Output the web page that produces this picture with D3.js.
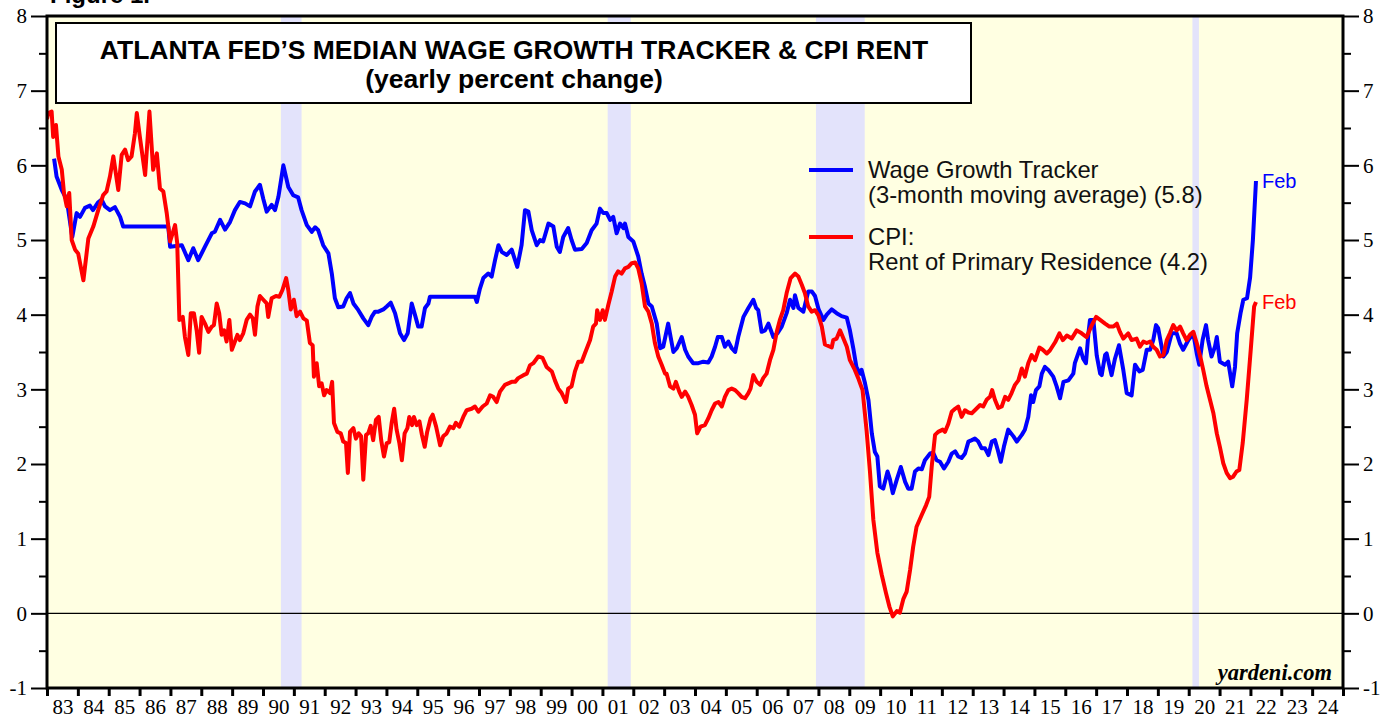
<!DOCTYPE html>
<html>
<head>
<meta charset="utf-8">
<script src="https://cdn.jsdelivr.net/npm/d3@7"></script>
<style>
  body { margin: 0; background: #fff; }
  svg { display: block; }
</style>
</head>
<body>
<div id="chart"></div>
<script>
// Wage Growth Tracker, 3-month moving average (decimal year, %)
const wageSeries = [
  [1983.23,6.09],[1983.31,5.85],[1983.48,5.67],[1983.64,5.54],[1983.80,5.09],[1983.82,5.04],[1983.96,5.36],[1984.07,5.31],
  [1984.23,5.43],[1984.39,5.46],[1984.49,5.40],[1984.65,5.50],[1984.77,5.54],[1984.88,5.45],[1985.04,5.40],[1985.20,5.44],
  [1985.37,5.31],[1985.47,5.18],[1986.93,5.18],[1986.99,4.91],[1987.37,4.93],[1987.58,4.73],[1987.74,4.89],[1987.90,4.73],
  [1988.12,4.91],[1988.34,5.09],[1988.44,5.11],[1988.61,5.27],[1988.77,5.14],[1988.93,5.24],[1989.09,5.40],[1989.25,5.51],
  [1989.42,5.49],[1989.58,5.45],[1989.74,5.65],[1989.90,5.74],[1990.01,5.55],[1990.12,5.38],[1990.28,5.47],[1990.39,5.40],
  [1990.50,5.58],[1990.66,6.00],[1990.82,5.71],[1990.98,5.60],[1991.14,5.57],[1991.25,5.40],[1991.42,5.20],[1991.58,5.11],
  [1991.69,5.17],[1991.79,5.13],[1991.95,4.93],[1992.12,4.82],[1992.23,4.55],[1992.33,4.22],[1992.44,4.10],[1992.60,4.11],
  [1992.71,4.22],[1992.82,4.29],[1992.93,4.15],[1993.09,4.06],[1993.25,3.95],[1993.41,3.86],[1993.52,3.97],[1993.63,4.04],
  [1993.74,4.04],[1993.90,4.07],[1994.01,4.11],[1994.14,4.16],[1994.28,4.02],[1994.44,3.75],[1994.57,3.66],[1994.69,3.75],
  [1994.82,4.15],[1994.93,3.99],[1995.03,3.84],[1995.14,3.84],[1995.25,4.09],[1995.36,4.15],[1995.41,4.24],[1996.87,4.24],
  [1996.93,4.17],[1997.03,4.35],[1997.14,4.49],[1997.30,4.55],[1997.41,4.51],[1997.52,4.73],[1997.63,4.93],[1997.74,4.84],
  [1997.90,4.80],[1998.06,4.87],[1998.24,4.64],[1998.38,4.93],[1998.49,5.40],[1998.60,5.38],[1998.71,5.13],[1998.87,4.93],
  [1998.98,5.00],[1999.08,4.98],[1999.25,5.22],[1999.41,5.18],[1999.52,4.91],[1999.62,4.84],[1999.73,5.04],[1999.89,5.16],
  [2000.00,5.00],[2000.11,4.87],[2000.33,4.88],[2000.49,4.96],[2000.65,5.13],[2000.81,5.22],[2000.92,5.42],[2001.03,5.36],
  [2001.14,5.36],[2001.25,5.27],[2001.35,5.31],[2001.46,5.09],[2001.57,5.22],[2001.68,5.16],[2001.73,5.22],[2001.84,5.04],
  [2002.00,4.98],[2002.16,4.78],[2002.27,4.55],[2002.38,4.37],[2002.49,4.15],[2002.60,4.11],[2002.76,3.88],[2002.87,3.55],
  [2002.97,3.57],[2003.13,3.88],[2003.30,3.50],[2003.41,3.55],[2003.57,3.70],[2003.68,3.53],[2003.78,3.44],[2003.94,3.35],
  [2004.11,3.35],[2004.27,3.37],[2004.43,3.36],[2004.54,3.44],[2004.65,3.57],[2004.74,3.70],[2004.87,3.70],[2004.97,3.57],
  [2005.08,3.64],[2005.19,3.55],[2005.30,3.50],[2005.40,3.70],[2005.57,3.97],[2005.73,4.09],[2005.89,4.20],[2005.98,4.09],
  [2006.05,4.06],[2006.16,3.77],[2006.27,3.79],[2006.38,3.88],[2006.54,3.70],[2006.67,3.75],[2006.81,3.84],[2006.97,4.02],
  [2007.08,4.20],[2007.19,4.09],[2007.24,4.26],[2007.35,4.09],[2007.51,4.04],[2007.67,4.31],[2007.79,4.31],[2007.89,4.25],
  [2008.00,4.08],[2008.16,3.93],[2008.27,4.00],[2008.43,4.07],[2008.59,4.02],[2008.75,3.98],[2008.92,3.96],[2009.02,3.79],
  [2009.13,3.55],[2009.23,3.30],[2009.35,3.21],[2009.40,3.26],[2009.51,3.08],[2009.62,2.86],[2009.73,2.41],[2009.83,2.16],
  [2009.91,2.10],[2009.99,1.70],[2010.10,1.67],[2010.24,1.90],[2010.32,1.79],[2010.41,1.61],[2010.54,1.79],[2010.67,1.96],
  [2010.81,1.76],[2010.91,1.67],[2011.02,1.67],[2011.13,1.90],[2011.24,1.94],[2011.35,1.93],[2011.45,2.05],[2011.62,2.14],
  [2011.72,2.15],[2011.83,2.05],[2011.94,2.03],[2012.07,1.94],[2012.21,2.03],[2012.32,2.14],[2012.43,2.17],[2012.53,2.10],
  [2012.64,2.08],[2012.75,2.14],[2012.86,2.30],[2012.97,2.32],[2013.07,2.34],[2013.18,2.30],[2013.29,2.21],[2013.40,2.21],
  [2013.51,2.12],[2013.62,2.30],[2013.72,2.32],[2013.81,2.19],[2013.91,2.03],[2014.01,2.23],[2014.15,2.46],[2014.32,2.37],
  [2014.43,2.30],[2014.59,2.39],[2014.69,2.46],[2014.80,2.63],[2014.89,2.92],[2014.96,2.83],[2015.05,2.99],[2015.16,3.04],
  [2015.24,3.21],[2015.34,3.30],[2015.45,3.26],[2015.61,3.17],[2015.72,3.04],[2015.83,2.88],[2015.94,3.10],[2016.10,3.12],
  [2016.26,3.21],[2016.31,3.35],[2016.48,3.55],[2016.58,3.41],[2016.67,3.35],[2016.75,3.75],[2016.80,3.93],[2016.91,3.93],
  [2017.02,3.45],[2017.13,3.21],[2017.18,3.19],[2017.29,3.46],[2017.34,3.48],[2017.50,3.19],[2017.61,3.41],[2017.74,3.59],
  [2017.88,3.26],[2017.99,2.95],[2018.15,2.92],[2018.26,3.33],[2018.40,3.24],[2018.51,3.26],[2018.64,3.53],[2018.75,3.53],
  [2018.85,3.66],[2018.94,3.86],[2019.01,3.82],[2019.18,3.44],[2019.29,3.50],[2019.45,3.75],[2019.61,3.75],[2019.72,3.61],
  [2019.82,3.53],[2019.99,3.66],[2020.15,3.75],[2020.26,3.48],[2020.34,3.33],[2020.45,3.66],[2020.56,3.86],[2020.63,3.66],
  [2020.74,3.44],[2020.85,3.57],[2020.91,3.70],[2021.01,3.37],[2021.18,3.33],[2021.28,3.37],[2021.41,3.04],[2021.50,3.30],
  [2021.57,3.75],[2021.68,4.02],[2021.77,4.20],[2021.89,4.22],[2021.99,4.50],[2022.08,5.00],[2022.18,5.79]
];

// CPI: Rent of Primary Residence, yearly % change
const rentSeries = [
  [1983.00,6.62],[1983.04,6.70],[1983.15,6.72],[1983.20,6.38],[1983.29,6.54],[1983.37,6.12],[1983.48,5.94],[1983.55,5.63],
  [1983.64,5.45],[1983.72,5.63],[1983.80,5.00],[1983.91,4.87],[1984.01,4.82],[1984.18,4.46],[1984.34,5.02],[1984.50,5.18],
  [1984.66,5.40],[1984.82,5.60],[1984.93,5.65],[1985.04,5.85],[1985.15,6.12],[1985.31,5.67],[1985.42,6.14],[1985.53,6.21],
  [1985.63,6.07],[1985.74,6.12],[1985.85,6.43],[1985.91,6.70],[1986.01,6.38],[1986.18,5.87],[1986.32,6.72],[1986.44,5.94],
  [1986.56,6.16],[1986.66,5.69],[1986.77,5.65],[1986.88,5.36],[1986.99,4.98],[1987.15,5.20],[1987.22,4.96],[1987.29,3.93],
  [1987.40,3.97],[1987.47,3.70],[1987.58,3.46],[1987.66,4.02],[1987.76,4.02],[1987.85,3.79],[1987.93,3.49],[1988.01,3.97],
  [1988.12,3.88],[1988.23,3.77],[1988.34,3.84],[1988.41,3.86],[1988.50,4.15],[1988.58,4.02],[1988.66,3.73],[1988.74,3.79],
  [1988.82,3.64],[1988.91,3.93],[1988.99,3.53],[1989.09,3.64],[1989.17,3.73],[1989.25,3.66],[1989.36,3.75],[1989.47,3.93],
  [1989.58,4.00],[1989.67,3.95],[1989.74,3.73],[1989.82,4.11],[1989.90,4.25],[1990.01,4.20],[1990.12,4.15],[1990.17,3.97],
  [1990.28,4.22],[1990.42,4.25],[1990.53,4.24],[1990.63,4.33],[1990.75,4.49],[1990.82,4.33],[1990.90,4.07],[1991.00,4.20],
  [1991.09,3.98],[1991.20,4.04],[1991.31,3.95],[1991.42,3.92],[1991.52,3.62],[1991.61,3.59],[1991.65,3.17],[1991.74,3.35],
  [1991.82,3.04],[1991.90,3.08],[1991.98,2.92],[1992.06,2.99],[1992.17,2.95],[1992.24,3.10],[1992.30,2.55],[1992.41,2.43],
  [1992.52,2.41],[1992.60,2.30],[1992.69,2.28],[1992.75,1.88],[1992.82,2.43],[1992.93,2.48],[1993.01,2.34],[1993.10,2.41],
  [1993.18,2.37],[1993.25,1.79],[1993.34,2.39],[1993.41,2.41],[1993.49,2.51],[1993.57,2.32],[1993.66,2.59],[1993.75,2.63],
  [1993.83,2.32],[1993.92,2.10],[1994.01,2.28],[1994.09,2.29],[1994.17,2.55],[1994.25,2.74],[1994.33,2.46],[1994.42,2.28],
  [1994.50,2.05],[1994.59,2.41],[1994.68,2.48],[1994.74,2.63],[1994.83,2.52],[1994.89,2.63],[1994.98,2.52],[1995.07,2.57],
  [1995.15,2.39],[1995.24,2.23],[1995.32,2.43],[1995.43,2.61],[1995.50,2.66],[1995.61,2.50],[1995.74,2.25],[1995.84,2.37],
  [1995.95,2.41],[1996.06,2.50],[1996.17,2.48],[1996.25,2.55],[1996.36,2.50],[1996.49,2.63],[1996.60,2.72],[1996.76,2.74],
  [1996.87,2.77],[1996.98,2.70],[1997.12,2.77],[1997.25,2.81],[1997.36,2.92],[1997.46,2.90],[1997.57,2.83],[1997.68,2.97],
  [1997.84,3.06],[1997.95,3.08],[1998.06,3.10],[1998.17,3.10],[1998.27,3.15],[1998.44,3.19],[1998.55,3.21],[1998.65,3.32],
  [1998.76,3.35],[1998.92,3.44],[1999.06,3.42],[1999.19,3.30],[1999.36,3.24],[1999.46,3.12],[1999.57,3.01],[1999.68,2.95],
  [1999.82,2.83],[1999.89,3.01],[2000.00,3.04],[2000.11,3.24],[2000.22,3.37],[2000.33,3.37],[2000.43,3.48],[2000.60,3.66],
  [2000.70,3.84],[2000.79,3.88],[2000.83,4.06],[2000.92,3.93],[2001.01,4.06],[2001.08,3.93],[2001.19,4.13],[2001.30,4.31],
  [2001.41,4.51],[2001.51,4.58],[2001.62,4.55],[2001.73,4.62],[2001.84,4.64],[2001.95,4.69],[2002.06,4.70],[2002.16,4.62],
  [2002.27,4.42],[2002.38,4.11],[2002.49,4.04],[2002.60,3.88],[2002.70,3.62],[2002.81,3.44],[2002.92,3.33],[2003.03,3.21],
  [2003.08,3.21],[2003.19,3.04],[2003.30,3.01],[2003.38,3.10],[2003.49,2.97],[2003.57,2.90],[2003.68,2.97],[2003.78,2.90],
  [2003.89,2.79],[2004.00,2.66],[2004.07,2.41],[2004.18,2.50],[2004.32,2.52],[2004.43,2.61],[2004.54,2.72],[2004.65,2.81],
  [2004.76,2.83],[2004.87,2.77],[2004.97,2.90],[2005.08,2.99],[2005.19,3.01],[2005.30,2.99],[2005.40,2.95],[2005.51,2.90],
  [2005.62,2.88],[2005.73,2.95],[2005.80,3.01],[2005.89,3.19],[2006.00,3.10],[2006.11,3.06],[2006.21,3.15],[2006.32,3.21],
  [2006.43,3.39],[2006.54,3.53],[2006.65,3.77],[2006.75,3.93],[2006.86,4.06],[2006.97,4.29],[2007.10,4.49],[2007.24,4.55],
  [2007.35,4.51],[2007.46,4.40],[2007.56,4.29],[2007.67,4.11],[2007.78,4.04],[2007.89,4.06],[2008.00,3.99],[2008.11,3.84],
  [2008.21,3.60],[2008.32,3.58],[2008.43,3.56],[2008.48,3.66],[2008.59,3.68],[2008.70,3.79],[2008.81,3.68],[2008.92,3.57],
  [2009.02,3.39],[2009.13,3.30],[2009.18,3.26],[2009.29,3.15],[2009.35,3.08],[2009.43,2.99],[2009.56,2.45],[2009.67,1.90],
  [2009.78,1.25],[2009.91,0.81],[2010.05,0.52],[2010.19,0.27],[2010.30,0.09],[2010.41,-0.04],[2010.54,0.03],[2010.64,0.01],
  [2010.75,0.19],[2010.86,0.29],[2010.97,0.58],[2011.07,0.89],[2011.18,1.16],[2011.35,1.32],[2011.49,1.45],[2011.59,1.56],
  [2011.67,1.96],[2011.78,2.39],[2011.88,2.43],[2012.03,2.46],[2012.10,2.43],[2012.21,2.54],[2012.32,2.70],[2012.43,2.74],
  [2012.53,2.77],[2012.64,2.63],[2012.75,2.72],[2012.86,2.69],[2012.97,2.68],[2013.07,2.72],[2013.24,2.79],[2013.34,2.77],
  [2013.45,2.86],[2013.56,2.90],[2013.63,2.99],[2013.72,2.86],[2013.83,2.75],[2013.94,2.77],[2014.05,2.90],[2014.15,2.86],
  [2014.26,2.95],[2014.37,3.06],[2014.48,3.12],[2014.59,3.28],[2014.69,3.17],[2014.80,3.35],[2014.91,3.46],[2015.02,3.39],
  [2015.16,3.56],[2015.27,3.53],[2015.40,3.48],[2015.50,3.52],[2015.67,3.63],[2015.81,3.75],[2015.92,3.66],[2016.05,3.72],
  [2016.21,3.68],[2016.37,3.79],[2016.53,3.75],[2016.69,3.70],[2016.86,3.86],[2017.00,3.97],[2017.13,3.93],[2017.29,3.88],
  [2017.43,3.84],[2017.56,3.84],[2017.67,3.88],[2017.77,3.77],[2017.88,3.68],[2018.04,3.75],[2018.15,3.66],[2018.31,3.68],
  [2018.42,3.57],[2018.53,3.64],[2018.64,3.62],[2018.75,3.64],[2018.85,3.57],[2018.96,3.53],[2019.07,3.44],[2019.18,3.46],
  [2019.29,3.66],[2019.39,3.75],[2019.50,3.86],[2019.61,3.79],[2019.72,3.84],[2019.82,3.75],[2019.93,3.66],[2020.04,3.73],
  [2020.15,3.77],[2020.26,3.62],[2020.39,3.41],[2020.47,3.26],[2020.58,3.04],[2020.69,2.86],[2020.80,2.68],[2020.91,2.41],
  [2021.01,2.23],[2021.12,2.01],[2021.23,1.88],[2021.34,1.81],[2021.44,1.83],[2021.55,1.90],[2021.64,1.92],[2021.75,2.28],
  [2021.88,2.86],[2022.01,3.53],[2022.12,4.11],[2022.18,4.17]
];

// Recession periods (start, end)
const recessions = [[1990.58, 1991.25], [2001.17, 2001.92], [2007.92, 2009.50], [2020.12, 2020.33]];

const yMajorTicks = [-1, 0, 1, 2, 3, 4, 5, 6, 7, 8];
const yMinorTicks = [-0.5, 0.5, 1.5, 2.5, 3.5, 4.5, 5.5, 6.5, 7.5];
const yearTicks = [1983,1984,1985,1986,1987,1988,1989,1990,1991,1992,1993,1994,1995,1996,1997,1998,1999,2000,2001,2002,2003,
  2004,2005,2006,2007,2008,2009,2010,2011,2012,2013,2014,2015,2016,2017,2018,2019,2020,2021,2022,2023,2024,2025];
const yearLabels = ['83','84','85','86','87','88','89','90','91','92','93','94','95','96','97','98','99','00','01','02','03',
  '04','05','06','07','08','09','10','11','12','13','14','15','16','17','18','19','20','21','22','23','24'];

const titleLines = ["ATLANTA FED\u2019S MEDIAN WAGE GROWTH TRACKER & CPI RENT", "(yearly percent change)"];
const legendItems = [
  { color: "#0000ff", lines: ["Wage Growth Tracker", "(3-month moving average) (5.8)"] },
  { color: "#ff0000", lines: ["CPI:", "Rent of Primary Residence (4.2)"] }
];

const W = 1389, H = 719;
const margin = { top: 16, right: 46, bottom: 31, left: 47 };
const innerW = W - margin.left - margin.right;
const innerH = H - margin.top - margin.bottom;

const svg = d3.select('#chart').append('svg')
  .attr('width', W).attr('height', H);

// heading, cut off by the top edge as in the source image
svg.append('text')
  .attr('x', 50).attr('y', 3)
  .attr('font-family', 'Liberation Sans, Arial, sans-serif')
  .attr('font-weight', 'bold').attr('font-size', 24)
  .text('Figure 1.');

const x = d3.scaleLinear().domain([1983, 2025]).range([0, innerW]);
const y = d3.scaleLinear().domain([-1, 8]).range([innerH, 0]);

const g = svg.append('g').attr('transform', `translate(${margin.left},${margin.top})`);

g.append('clipPath').attr('id', 'plotClip')
  .append('rect').attr('width', innerW).attr('height', innerH);

g.append('rect').attr('width', innerW).attr('height', innerH).attr('fill', '#ffffe2');

// recession shading
g.selectAll('rect.recession')
  .data(recessions)
  .join('rect')
  .attr('class', 'recession')
  .attr('x', d => x(d[0]))
  .attr('width', d => x(d[1]) - x(d[0]))
  .attr('y', 0).attr('height', innerH)
  .attr('fill', '#e3e3fb');

// zero line
g.append('line')
  .attr('x1', 0).attr('x2', innerW)
  .attr('y1', y(0)).attr('y2', y(0))
  .attr('stroke', '#000').attr('stroke-width', 1.2);

const line = d3.line().x(d => x(d[0])).y(d => y(d[1]));

const lines = g.append('g').attr('clip-path', 'url(#plotClip)');
lines.append('path').datum(wageSeries)
  .attr('d', line).attr('fill', 'none')
  .attr('stroke', '#0000ff').attr('stroke-width', 4)
  .attr('stroke-linejoin', 'round');
lines.append('path').datum(rentSeries)
  .attr('d', line).attr('fill', 'none')
  .attr('stroke', '#ff0000').attr('stroke-width', 4)
  .attr('stroke-linejoin', 'round');

// end labels
const lastWage = wageSeries[wageSeries.length - 1];
const lastRent = rentSeries[rentSeries.length - 1];
[[lastWage, '#0000ff'], [lastRent, '#ff0000']].forEach(([p, c]) => {
  g.append('text')
    .attr('x', x(p[0]) + 6).attr('y', y(p[1]) + 7)
    .attr('font-family', 'Liberation Sans, Arial, sans-serif')
    .attr('font-size', 20).attr('fill', c)
    .text('Feb');
});

// title box
g.append('rect')
  .attr('x', 9).attr('y', 7).attr('width', 915).attr('height', 80)
  .attr('fill', '#fff').attr('stroke', '#000').attr('stroke-width', 2);
g.selectAll('text.title')
  .data(titleLines)
  .join('text')
  .attr('class', 'title')
  .attr('x', 467).attr('y', (d, i) => 43 + i * 29)
  .attr('text-anchor', 'middle')
  .attr('font-family', 'Liberation Sans, Arial, sans-serif')
  .attr('font-weight', 'bold').attr('font-size', 26.5)
  .text(d => d);

// legend
const legend = g.append('g').attr('transform', 'translate(762,154)');
legendItems.forEach((item, i) => {
  const row = legend.append('g').attr('transform', `translate(0,${i * 67})`);
  row.append('line')
    .attr('x1', 0).attr('x2', 44).attr('y1', 0).attr('y2', 0)
    .attr('stroke', item.color).attr('stroke-width', 4);
  row.selectAll('text')
    .data(item.lines)
    .join('text')
    .attr('x', 59).attr('y', (d, j) => 8 + j * 25)
    .attr('font-family', 'Liberation Sans, Arial, sans-serif')
    .attr('font-size', 23.8).attr('fill', '#111')
    .text(d => d);
});

// source
g.append('text')
  .attr('x', innerW - 11).attr('y', innerH - 8)
  .attr('text-anchor', 'end')
  .attr('font-family', 'Liberation Serif, Times New Roman, serif')
  .attr('font-weight', 'bold').attr('font-style', 'italic')
  .attr('font-size', 22.5)
  .text('yardeni.com');

// frame
g.append('rect').attr('width', innerW).attr('height', innerH)
  .attr('fill', 'none').attr('stroke', '#000').attr('stroke-width', 3);

// axes
function styleAxis(sel, width) {
  sel.select('.domain').remove();
  sel.selectAll('.tick line').attr('stroke', '#000').attr('stroke-width', width);
  sel.selectAll('.tick text')
    .attr('fill', '#000')
    .attr('font-family', 'Liberation Serif, Times New Roman, serif')
    .attr('font-size', 21);
}

const plainNum = d => String(d);

g.append('g')
  .call(d3.axisLeft(y).tickValues(yMajorTicks).tickSize(16).tickPadding(4).tickFormat(plainNum))
  .call(s => styleAxis(s, 2));
g.append('g')
  .call(d3.axisLeft(y).tickValues(yMinorTicks).tickSize(8).tickFormat(''))
  .call(s => styleAxis(s, 2));
g.append('g').attr('transform', `translate(${innerW},0)`)
  .call(d3.axisRight(y).tickValues(yMajorTicks).tickSize(16).tickPadding(4).tickFormat(plainNum))
  .call(s => styleAxis(s, 2));
g.append('g').attr('transform', `translate(${innerW},0)`)
  .call(d3.axisRight(y).tickValues(yMinorTicks).tickSize(8).tickFormat(''))
  .call(s => styleAxis(s, 2));

g.append('g').attr('transform', `translate(0,${innerH})`)
  .call(d3.axisBottom(x).tickValues(yearTicks).tickSize(8).tickFormat(''))
  .call(s => styleAxis(s, 3));
g.append('g').attr('transform', `translate(0,${innerH})`)
  .call(d3.axisBottom(x).tickValues(yearTicks.slice(0, -1).map(v => v + 0.5)).tickSize(0).tickPadding(11)
    .tickFormat((d, i) => yearLabels[i]))
  .call(s => styleAxis(s, 0));
</script>
</body>
</html>
